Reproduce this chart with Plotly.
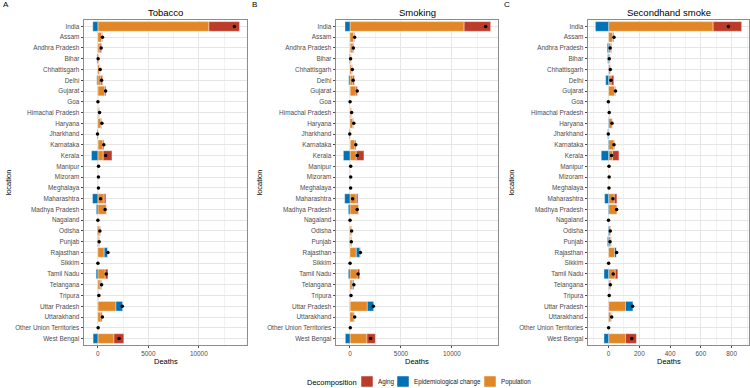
import plotly.graph_objects as go

locations = ["India", "Assam", "Andhra Pradesh", "Bihar", "Chhattisgarh", "Delhi", "Gujarat", "Goa",
             "Himachal Pradesh", "Haryana", "Jharkhand", "Karnataka", "Kerala", "Manipur", "Mizoram",
             "Meghalaya", "Maharashtra", "Madhya Pradesh", "Nagaland", "Odisha", "Punjab", "Rajasthan",
             "Sikkim", "Tamil Nadu", "Telangana", "Tripura", "Uttar Pradesh", "Uttarakhand",
             "Other Union Territories", "West Bengal"]

# Tobacco
tob_pop = [11000, 370, 230, 100, 190, 320, 670, 20, 100, 300, 40, 500, 530, 50, 40, 50, 630, 850, 20, 200,
           100, 630, 15, 730, 230, 60, 1800, 320, 30, 1600]
tob_epi = [-500, 20, -30, -90, 10, -100, -30, -20, 40, 60, -80, -10, -630, 10, 10, 5, -530, -150, -20, -50,
           -30, 330, -10, -170, 60, 20, 650, 120, -5, -470]
tob_aging = [3030, 70, 130, 20, 30, 150, 130, 10, 30, 40, 10, 100, 870, 10, 10, 5, 170, 20, 5, 50,
             60, 40, 3, 270, 80, 20, -30, 10, 5, 970]

# Smoking
smk_pop = [11200, 380, 230, 100, 200, 300, 600, 20, 100, 280, 40, 480, 620, 50, 50, 50, 620, 850, 20, 150,
           100, 620, 15, 720, 220, 60, 1700, 330, 30, 1670]
smk_epi = [-490, 20, -20, -60, 0, -120, -20, -20, 30, 50, -70, -10, -650, 10, 10, 5, -520, -160, -20, -30,
           -30, 360, -10, -160, 60, 20, 620, 120, -5, -460]
smk_aging = [2600, 60, 120, 20, 30, 130, 130, 10, 30, 40, 10, 100, 750, 10, 10, 5, 160, 20, 5, 40,
             60, 40, 3, 230, 100, 20, -30, 10, 5, 820]

# Secondhand smoke
shs_pop = [680, 28, 13, 9, 11, 17, 39, 1, 3, 24, 3, 35, 26, 2, 3, 2, 37, 56, 1, 13,
           13, 39, 0.5, 43, 9, 4, 110, 15, 1, 110]
shs_epi = [-86, 2, -9, -6, -2, -19, 0, -3, -1, -3, -6, -4, -48, 0, 0, 0, -26, -4, -2, -4,
           -8, 13, -0.5, -30, -2, -1, 48, 4, -1, -30]
shs_aging = [185, 5, 6, 1, 2, 17, 6, 0.5, 2, 1, 1, 4, 41, 0.5, 0.5, 0.5, 17, 0, 0.5, 2,
             4, 0, 0, 17, 4, 1, -2, 1, 0, 71]

panel_titles = ["Tobacco", "Smoking", "Secondhand smoke"]
panel_tags = ["A", "B", "C"]
legend_title = "Decomposition"
legend_names = ["Aging", "Epidemiological change", "Population"]
panels = [(tob_pop, tob_epi, tob_aging), (smk_pop, smk_epi, smk_aging), (shs_pop, shs_epi, shs_aging)]
xranges = [[-1370, 14770], [-1372, 14522], [-134, 913]]
xdticks = [5000, 5000, 200]

COL_AGING = "#BC3C29"
COL_EPI = "#0072B5"
COL_POP = "#E18727"
legend_colors = [COL_AGING, COL_EPI, COL_POP]
FONT = "Liberation Sans, Arial, sans-serif"

W, H = 750, 388
xdoms = [(84, 247), (336, 498), (588, 749)]
ytop, ybot = 20, 345
ydom = [1 - ybot / H, 1 - ytop / H]

fig = go.Figure()
annotations = []
shapes = []
for i, (pop, epi, aging) in enumerate(panels):
    ax = "" if i == 0 else str(i + 1)
    xref, yref = "x" + ax, "y" + ax
    total = [p + e + a for p, e, a in zip(pop, epi, aging)]
    for name, vals, col in [("Population", pop, COL_POP),
                            ("Epidemiological change", epi, COL_EPI),
                            ("Aging", aging, COL_AGING)]:
        fig.add_trace(go.Bar(y=locations, x=vals, orientation="h", name=name, showlegend=False,
                             marker=dict(color=col, line=dict(color="white", width=0.4)),
                             width=0.9, xaxis=xref, yaxis=yref))
    fig.add_trace(go.Scatter(y=locations, x=total, mode="markers", showlegend=False,
                             marker=dict(color="black", size=3.5), xaxis=xref, yaxis=yref))
    x0, x1 = xdoms[i]
    axis_common = dict(showline=True, mirror=True, linecolor="#8c8c8c", linewidth=0.8,
                       ticks="outside", ticklen=2.5, tickcolor="#4d4d4d", tickwidth=0.6,
                       tickfont=dict(family=FONT, size=6.4, color="#4d4d4d"),
                       showgrid=True, gridcolor="#e6e6e6", gridwidth=0.6, zeroline=False,
                       automargin=False)
    fig.update_layout(**{
        "xaxis" + ax: dict(domain=[x0 / W, x1 / W], range=xranges[i], anchor=yref,
                           tickmode="linear", tick0=0, dtick=xdticks[i], tickformat="d",
                           minor=dict(dtick=xdticks[i] / 2, tick0=0, showgrid=True,
                                      gridcolor="#f2f2f2", gridwidth=0.4, ticks=""),
                           **axis_common),
        "yaxis" + ax: dict(domain=ydom, anchor=xref, type="category",
                           categoryorder="array", categoryarray=locations,
                           range=[len(locations) - 0.4, -0.6], **axis_common),
    })
    cx = (x0 + x1) / 2 / W
    annotations.append(dict(text=panel_titles[i], x=cx, y=1 - 12 / H, xref="paper", yref="paper",
                            showarrow=False, font=dict(family=FONT, size=9.5, color="black"),
                            xanchor="center", yanchor="middle"))
    annotations.append(dict(text="Deaths", x=cx, y=1 - 361 / H, xref="paper", yref="paper",
                            showarrow=False, font=dict(family=FONT, size=7.5, color="black"),
                            xanchor="center", yanchor="middle"))
    annotations.append(dict(text=panel_tags[i], x=[1, 250, 502][i] / W, y=1 - 5 / H, xref="paper",
                            yref="paper", showarrow=False, font=dict(family=FONT, size=8, color="black"),
                            xanchor="left", yanchor="middle"))
    annotations.append(dict(text="location", x=[8, 259, 511][i] / W, y=(ydom[0] + ydom[1]) / 2,
                            xref="paper", yref="paper", showarrow=False, textangle=-90,
                            font=dict(family=FONT, size=7.5, color="black"),
                            xanchor="center", yanchor="middle"))

# Legend (drawn manually to match ggplot's compact bottom legend)
ly = 1 - 382 / H
annotations.append(dict(text=legend_title, x=305 / W, y=ly, xref="paper", yref="paper", showarrow=False,
                        font=dict(family=FONT, size=7.5, color="black"), xanchor="left", yanchor="middle"))
sw_x = [361, 397, 484]
for name, col, sx in zip(legend_names, legend_colors, sw_x):
    shapes.append(dict(type="rect", xref="paper", yref="paper", x0=sx / W, x1=(sx + 12) / W,
                       y0=1 - 388 / H + 1 / H, y1=1 - 376 / H, fillcolor=col,
                       line=dict(color="white", width=0.5)))
    annotations.append(dict(text=name, x=(sx + 15) / W, y=ly, xref="paper", yref="paper", showarrow=False,
                            font=dict(family=FONT, size=6.3, color="#1a1a1a"),
                            xanchor="left", yanchor="middle"))

fig.update_layout(
    width=W, height=H, barmode="relative", bargap=0.1,
    margin=dict(l=0, r=0, t=0, b=0),
    paper_bgcolor="white", plot_bgcolor="white",
    font=dict(family=FONT, size=7, color="black"),
    annotations=annotations, shapes=shapes, showlegend=False,
)

fig.write_html("out.html")
